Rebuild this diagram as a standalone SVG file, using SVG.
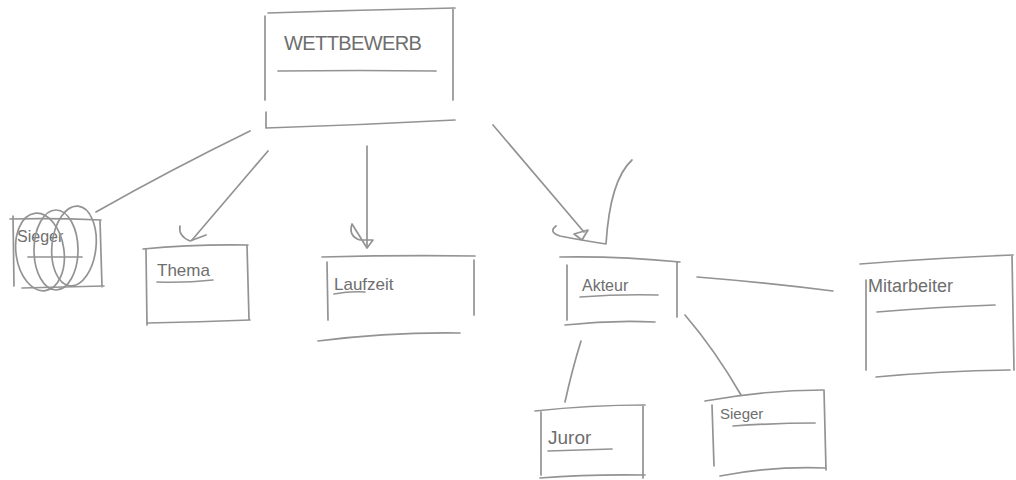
<svg xmlns="http://www.w3.org/2000/svg" width="1016" height="480" viewBox="0 0 1016 480">
<style>
.s{fill:none;stroke:#939393;stroke-width:1.7;stroke-linecap:round;stroke-linejoin:round}
.t{font-family:"Liberation Sans",Arial,sans-serif;fill:#6e6e6e}
</style>
<rect width="1016" height="480" fill="#ffffff"/>
<g id="connectors" class="s">
<path d="M250 131 Q170 170 96 212"/>
<path d="M268 151 L192 240"/>
<path d="M180 226 Q178 236 190 241 L206 235"/>
<path d="M367 146 L367 246"/>
<path d="M352 224 Q348 236 360 240 L373 240 L367 248 Z"/>
<path d="M493 125 Q540 180 584 232"/>
<path d="M632 160 Q610 180 606 244 Q580 240 560 236 Q548 232 556 226"/>
<path d="M574 234 L588 230 L582 240 Z"/>
<path d="M697 277 Q760 282 833 291"/>
<path d="M581 341 Q572 370 565 402"/>
<path d="M685 315 Q715 350 741 395"/>
</g>
<g id="wettbewerb">
<path class="s" d="M268 13 Q360 10 455 8 M265 16 L265 100 M266 112 L266 128 Q360 125 455 120 M453 8 L453 100 M278 71 Q360 70 436 71"/>
<text class="t" x="284" y="50" font-size="20" letter-spacing="-0.6">WETTBEWERB</text>
</g>
<g id="sieger-alt">
<path class="s" d="M10 219 Q55 218 101 220 M13 216 L14 286 M100 220 L102 287 M22 288 Q62 287 104 286 M28 257 L82 257"/>
<text class="t" x="17" y="242" font-size="16">Sieger</text>
<ellipse class="s" cx="40" cy="252" rx="24" ry="39" transform="rotate(-8 40 252)"/>
<ellipse class="s" cx="56" cy="250" rx="22" ry="40"/>
<ellipse class="s" cx="74" cy="246" rx="22" ry="40" transform="rotate(6 74 246)"/>
</g>
<g id="thema">
<path class="s" d="M143 249 Q195 244 248 245 M146 250 L147 325 M247 245 L249 319 M148 323 Q200 322 250 320 M157 282 Q185 283 213 280"/>
<text class="t" x="157" y="276" font-size="17">Thema</text>
</g>
<g id="laufzeit">
<path class="s" d="M322 257 Q400 255 475 256 M327 262 L328 320 M474 260 L474 315 M318 341 Q390 332 460 333 M334 294 Q350 291 365 292"/>
<text class="t" x="334" y="290" font-size="17">Laufzeit</text>
</g>
<g id="akteur">
<path class="s" d="M560 257 Q620 256 680 262 M567 265 L567 320 M677 262 L677 317 M565 325 Q610 320 655 322 M580 297 Q620 294 658 295"/>
<text class="t" x="582" y="291" font-size="16">Akteur</text>
</g>
<g id="mitarbeiter">
<path class="s" d="M860 264 Q935 258 1013 255 M866 280 L866 370 M1012 255 L1014 370 M876 377 Q940 371 1010 370 M877 312 Q935 307 995 305"/>
<text class="t" x="868" y="292" font-size="18">Mitarbeiter</text>
</g>
<g id="juror">
<path class="s" d="M535 411 Q590 405 645 405 M541 412 L541 475 M643 405 L643 478 M540 478 Q590 474 645 475 M548 451 Q580 450 612 449"/>
<text class="t" x="548" y="444" font-size="19">Juror</text>
</g>
<g id="sieger">
<path class="s" d="M705 401 Q765 390 823 390 M712 405 L714 466 M824 390 L826 470 M720 476 Q770 466 826 468 M733 426 Q775 423 815 423"/>
<text class="t" x="720" y="419" font-size="15">Sieger</text>
</g>
</svg>
